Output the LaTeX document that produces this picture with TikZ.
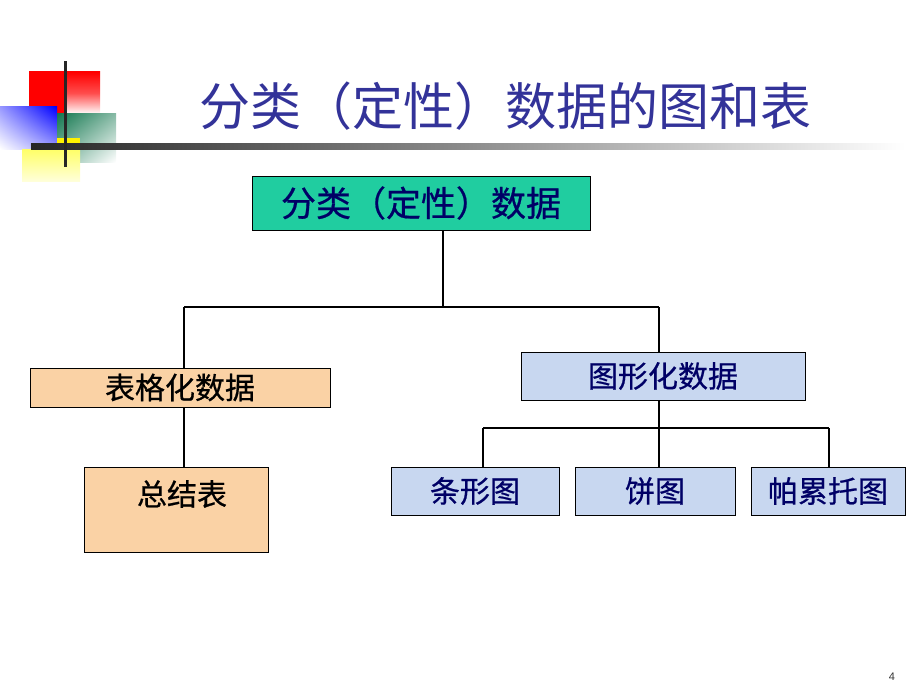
\documentclass[tikz,border=0pt]{standalone}
\usepackage{fontspec}
\usetikzlibrary{shadings}
\newfontfamily\cjk{Noto Sans CJK SC}
\newfontfamily\cjkm[FakeBold=0.6]{Noto Sans CJK SC}
\setmainfont{Liberation Sans}
\definecolor{titleblue}{RGB}{51,51,153}
\definecolor{navy}{RGB}{0,0,102}
\definecolor{teal}{RGB}{32,205,160}
\definecolor{peach}{RGB}{250,210,165}
\definecolor{lblue}{RGB}{200,215,240}
\definecolor{dgreen}{RGB}{20,120,80}
\tikzset{
  boxbase/.style={draw=black, line width=1pt, inner sep=0pt, font=\cjkm\fontsize{30}{34}\selectfont},
  conn/.style={line width=1.4pt, draw=black},
}
\begin{document}
\begin{tikzpicture}[x=1pt,y=-1pt]
\useasboundingbox (0,0) rectangle (920,690);
% decoration
\shade[left color=red, right color=white, middle color=red!70!white, shading angle=0] (29,72) rectangle (100,114);
\fill[red] (29,72) rectangle (65,114);
\shade[upper right=blue, lower left=white, upper left=blue!40!white, lower right=blue!40!white] (0,107) rectangle (57,149);
\shade[upper left=dgreen, lower right=white, upper right=dgreen!50!white, lower left=dgreen!50!white] (57,114) rectangle (116,162);
\shade[top color=yellow!60!white, bottom color=yellow!15!white] (22,149) rectangle (80,181);
\fill[yellow] (57,138) rectangle (80,143);
\shade[left color=black!85, right color=white, middle color=black!45] (31,143) rectangle (905,149);
\fill[black!85] (63.5,61) rectangle (66.5,167);
% title
\node[font=\cjk\fontsize{51}{55}\selectfont, text=titleblue, anchor=center] (title) at (505,106) {分类（定性）数据的图和表};
% boxes
\node[boxbase, fill=teal, text=navy, minimum width=338pt, minimum height=54pt, font=\cjkm\fontsize{35}{38}\selectfont] (top) at (421,203) {分类（定性）数据};
\node[boxbase, fill=peach, text=black, minimum width=300pt, minimum height=39pt] (tab) at (180,387.5) {表格化数据};
\node[boxbase, fill=peach, minimum width=184pt, minimum height=85pt] (sum) at (176,509.5) {};
\node[font=\cjkm\fontsize{30}{34}\selectfont, text=black] (sumt) at (182,494) {总结表};
\node[boxbase, fill=lblue, text=navy, minimum width=284pt, minimum height=48pt] (gra) at (663,376) {图形化数据};
\node[boxbase, fill=lblue, text=navy, minimum width=168pt, minimum height=48pt] (bar) at (475,491) {条形图};
\node[boxbase, fill=lblue, text=navy, minimum width=160pt, minimum height=48pt] (pie) at (655,491) {饼图};
\node[boxbase, fill=lblue, text=navy, minimum width=154pt, minimum height=48pt] (par) at (828,491) {帕累托图};
% connectors
\coordinate (j1) at (443,307);
\coordinate (jl) at (184,307);
\coordinate (jr) at (659,307);
\coordinate (j2) at (659,428);
\coordinate (b1) at (483,428);
\coordinate (b3) at (829,428);
\draw[conn] (top.south -| j1) -- (j1);
\draw[conn] (jl) -- (jr);
\draw[conn] (jl) -- (jl |- tab.north);
\draw[conn] (jr) -- (jr |- gra.north);
\draw[conn] (tab.south -| jl) -- (jl |- sum.north);
\draw[conn] (gra.south -| j2) -- (j2);
\draw[conn] (b1) -- (b3);
\draw[conn] (b1) -- (b1 |- bar.north);
\draw[conn] (j2) -- (j2 |- pie.north);
\draw[conn] (b3) -- (b3 |- par.north);
% page number
\node[font=\fontsize{11}{12}\selectfont, text=black!80] (pg) at (892,677) {4};
\end{tikzpicture}
\end{document}
